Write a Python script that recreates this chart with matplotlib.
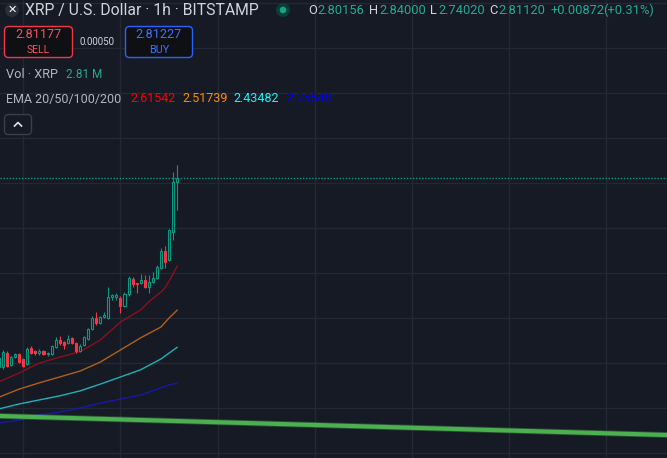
import numpy as np
import matplotlib.pyplot as plt
from matplotlib.patches import Rectangle, FancyBboxPatch, Circle
from matplotlib.lines import Line2D
from matplotlib.transforms import Affine2D

plt.rcParams['font.family'] = ['Roboto', 'DejaVu Sans']

W, H = 667, 458
BG = '#161a25'
GRID = '#242834'
UP = '#089981'
DOWN = '#f23645'
TXT = '#d1d4dc'

# hourly candles (XRP/USD, Bitstamp)
opens = [2.391, 2.391, 2.422, 2.396, 2.413, 2.420, 2.409, 2.398, 2.433, 2.427,
         2.422, 2.427, 2.420, 2.420, 2.436, 2.451, 2.447, 2.444, 2.456, 2.444,
         2.427, 2.440, 2.453, 2.476, 2.500, 2.489, 2.502, 2.500, 2.547, 2.547,
         2.545, 2.527, 2.553, 2.587, 2.578, 2.578, 2.585, 2.569, 2.580, 2.589,
         2.611, 2.649, 2.629, 2.691, 2.80156]
highs = [2.418, 2.429, 2.427, 2.416, 2.422, 2.422, 2.411, 2.436, 2.438, 2.429,
         2.431, 2.429, 2.424, 2.440, 2.458, 2.460, 2.449, 2.462, 2.458, 2.447,
         2.442, 2.460, 2.478, 2.504, 2.513, 2.504, 2.513, 2.569, 2.553, 2.556,
         2.549, 2.558, 2.593, 2.591, 2.578, 2.598, 2.596, 2.596, 2.602, 2.618,
         2.656, 2.660, 2.698, 2.824, 2.84000]
lows = [2.380, 2.387, 2.391, 2.393, 2.411, 2.400, 2.391, 2.396, 2.420, 2.418,
        2.418, 2.418, 2.416, 2.418, 2.433, 2.440, 2.431, 2.442, 2.442, 2.422,
        2.424, 2.438, 2.451, 2.473, 2.484, 2.487, 2.500, 2.498, 2.540, 2.540,
        2.511, 2.524, 2.549, 2.569, 2.556, 2.576, 2.567, 2.556, 2.578, 2.587,
        2.609, 2.611, 2.627, 2.673, 2.74020]
closes = [2.411, 2.424, 2.393, 2.413, 2.420, 2.402, 2.393, 2.431, 2.422, 2.422,
          2.427, 2.420, 2.422, 2.438, 2.451, 2.444, 2.440, 2.453, 2.444, 2.427,
          2.438, 2.458, 2.476, 2.500, 2.489, 2.502, 2.507, 2.547, 2.551, 2.551,
          2.527, 2.553, 2.589, 2.576, 2.576, 2.585, 2.569, 2.580, 2.589, 2.613,
          2.649, 2.625, 2.696, 2.802, 2.81120]

# EMA readings (bar index -> value)
ema20_idx = [0, 5, 10, 15, 20, 25, 30, 35, 37, 40, 41, 42, 43, 44]
ema20 = [2.358, 2.378, 2.400, 2.413, 2.425, 2.451, 2.491, 2.518, 2.536, 2.558,
         2.567, 2.582, 2.598, 2.61542]
ema_idx = [0, 5, 10, 15, 20, 25, 30, 35, 40, 42, 44]
ema50 = [2.324, 2.342, 2.356, 2.369, 2.382, 2.402, 2.429, 2.456, 2.480, 2.500, 2.51739]
ema100 = [2.298, 2.309, 2.318, 2.327, 2.338, 2.353, 2.369, 2.385, 2.409, 2.422, 2.43482]
ema200 = [2.267, 2.273, 2.285, 2.291, 2.300, 2.311, 2.320, 2.329, 2.345, 2.351, 2.35548]

trend_x = [-2, 168]
trend_y = [2.2828, 2.2392]

day_lines = [6, 30, 54, 78, 102, 126, 150]
price_lines = [2.2, 2.3, 2.4, 2.5, 2.6, 2.7, 2.8, 2.9, 3.0, 3.1, 3.2]

fig = plt.figure(figsize=(W / 100, H / 100), dpi=100, facecolor=BG)
ax = fig.add_axes([0, 0, 1, 1], facecolor=BG)
ax.set_xlim(0.26, 164.95)
ax.set_ylim(2.1889, 3.2067)
for s in ax.spines.values():
    s.set_visible(False)
ax.set_xticks([])
ax.set_yticks([])

for gx in day_lines:
    ax.axvline(gx, color=GRID, lw=1, zorder=0)
for gy in price_lines:
    ax.axhline(gy, color=GRID, lw=1, zorder=0)

# candles
bw = 0.5
for i, (o, h, l, c) in enumerate(zip(opens, highs, lows, closes)):
    if c >= o:
        ax.vlines(i, c, h, color=UP, lw=0.8, zorder=3)
        ax.vlines(i, l, o, color=UP, lw=0.8, zorder=3)
        ax.add_patch(Rectangle((i - bw / 2, o), bw, max(c - o, 0.001),
                               facecolor=BG, edgecolor=UP, lw=0.8, zorder=4))
    else:
        ax.vlines(i, l, h, color=DOWN, lw=0.8, zorder=3)
        ax.add_patch(Rectangle((i - bw / 2, c), bw, max(o - c, 0.001),
                               facecolor=DOWN, edgecolor=DOWN, lw=0.8, zorder=4))

# EMAs
ax.plot(ema20_idx, ema20, color='#8c1018', lw=1, zorder=2)
ax.plot(ema_idx, ema50, color='#b0601c', lw=1, zorder=2)
ax.plot(ema_idx, ema100, color='#1fb0b8', lw=1, zorder=2)
ax.plot(ema_idx, ema200, color='#1818a8', lw=1, zorder=2)

# trend line
ax.plot(trend_x, trend_y, color='#4caf50', lw=4.2, alpha=0.35, zorder=2,
        solid_capstyle='butt')
ax.plot(trend_x, trend_y, color='#4caf50', lw=3, zorder=2, solid_capstyle='butt')

# last price
ax.axhline(closes[-1], color=UP, lw=1, ls=(0, (1, 1.2)), zorder=1)

# ---- header overlay in pixel coordinates (origin top-left)
px = Affine2D().scale(1 / W, -1 / H).translate(0, 1) + fig.transFigure
renderer = fig.canvas.get_renderer()


def label(x, y, s, color, width=None, size=9, ha='left', **kw):
    t = fig.text(x, y, s, color=color, fontsize=size, ha=ha, va='center',
                 transform=px, **kw)
    if width:
        w = t.get_window_extent(renderer).width
        t.set_fontsize(size * width / w)
    return t


def box(x, y, w, h, edge, face):
    fig.patches.append(FancyBboxPatch((x, y), w, h,
                                      boxstyle='round,pad=0,rounding_size=4',
                                      transform=px, facecolor=face,
                                      edgecolor=edge, lw=1))


fig.patches.append(Circle((12, 10), 7, transform=px, facecolor='#2a2e39'))
label(12, 10, '✕', '#ffffff', size=8, ha='center', family='DejaVu Sans')
label(25, 10, 'XRP / U.S. Dollar · 1h · BITSTAMP', TXT, width=233)
fig.patches.append(Circle((283, 10), 7, transform=px, facecolor='#0b3d37'))
fig.patches.append(Circle((283, 10), 3.3, transform=px, facecolor='#10a58b'))

t = label(317, 10, '2.80156', '#22ab94', width=47)
fs = t.get_fontsize()
label(308, 10, 'O', TXT, size=fs)
label(369, 10, 'H', TXT, size=fs)
label(379, 10, '2.84000', '#22ab94', size=fs)
label(430, 10, 'L', TXT, size=fs)
label(438, 10, '2.74020', '#22ab94', size=fs)
label(489, 10, 'C', TXT, size=fs)
label(498, 10, '2.81120', '#22ab94', size=fs)
label(551, 10, '+0.00872', '#22ab94', size=fs)
label(603, 10, '(+0.31%)', '#22ab94', size=fs)

box(4.5, 26.5, 68, 31, DOWN, '#0f1014')
label(38.5, 35, '2.81177', '#f7525f', width=46, ha='center')
label(38.5, 50, 'SELL', '#f7525f', width=23, ha='center')
label(80, 42, '0.00050', TXT, width=36)
box(125.5, 26.5, 67, 31, '#2962ff', '#0f1014')
label(159, 35, '2.81227', '#3a74ff', width=46, ha='center')
label(159, 50, 'BUY', '#3a74ff', width=20, ha='center')

t = label(6, 75, 'Vol · XRP', '#b2b5be', width=52)
label(66, 75, '2.81 M', '#22ab94', width=36)
t = label(6, 99, 'EMA 20/50/100/200', '#b2b5be', width=115)
fs = t.get_fontsize()
label(130, 99, '2.61542', '#ff0000', size=fs)
label(182, 99, '2.51739', '#ff8c00', size=fs)
label(233, 99, '2.43482', '#00ffff', size=fs)
label(286, 99, '2.35548', '#0000ff', size=fs)

box(4.5, 114.5, 27, 20, '#3a3e4a', BG)
fig.lines.append(Line2D([14.5, 18, 21.5], [126, 122.5, 126], transform=px,
                        color='#e0e3eb', lw=1.2))

fig.savefig('out.png', dpi=100, facecolor=BG)
